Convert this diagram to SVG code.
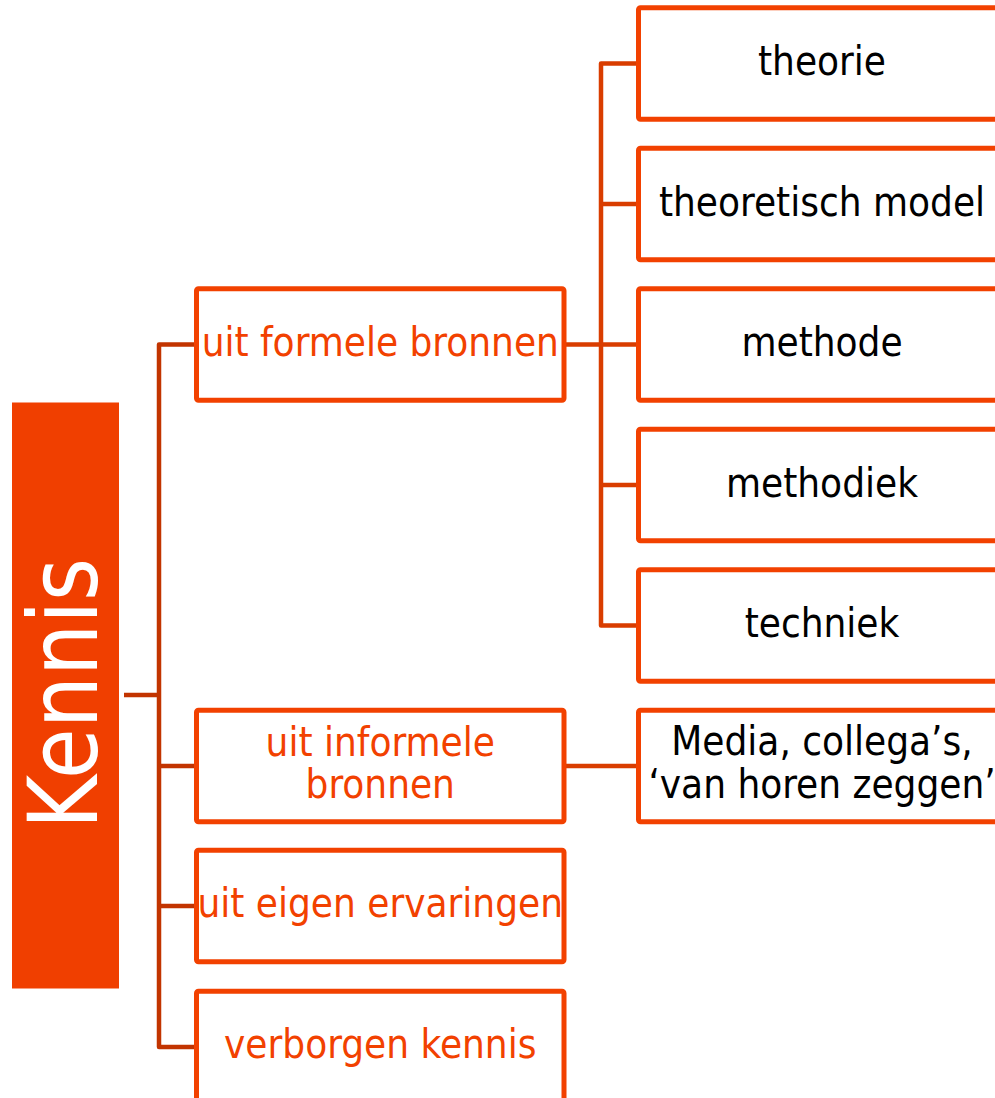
<svg xmlns="http://www.w3.org/2000/svg" width="995" height="1098" viewBox="0 0 995 1098">
<style>
.box{fill:#ffffff;stroke:#F24100;stroke-width:5;}
.t1{font-family:"DejaVu Sans Condensed","DejaVu Sans",Verdana,sans-serif;font-stretch:condensed;font-size:40px;fill:#F24100;text-anchor:middle;}
.t2{font-family:"DejaVu Sans Condensed","DejaVu Sans",Verdana,sans-serif;font-stretch:condensed;font-size:40px;fill:#000000;text-anchor:middle;}
.c1{fill:none;stroke:#C23400;stroke-width:4.5;stroke-linejoin:round;}
.c2{fill:none;stroke:#D93D00;stroke-width:4.5;stroke-linejoin:round;}
</style>
<rect width="995" height="1098" fill="#ffffff"/>
<g id="connectors">
<path class="c1" d="M124,695 H159"/>
<path class="c1" d="M196.5,344.5 H159 V1047 H196.5"/>
<path class="c1" d="M159,766 H196.5"/>
<path class="c1" d="M159,906 H196.5"/>
<path class="c2" d="M564,344.5 H638.5"/>
<path class="c2" d="M638.5,63.5 H601 V625.5 H638.5"/>
<path class="c2" d="M601,204 H638.5"/>
<path class="c2" d="M601,485 H638.5"/>
<path class="c2" d="M564,766 H638.5"/>
</g>
<g id="kennis">
<rect x="12" y="402.5" width="107" height="586" fill="#F03F00"/>
<text transform="translate(97,693.5) rotate(-90)" x="0" y="0" font-family="'DejaVu Sans',Verdana,sans-serif" font-size="97" fill="#ffffff" text-anchor="middle" textLength="271" lengthAdjust="spacingAndGlyphs">Kennis</text>
</g>
<g id="formele">
<rect class="box" x="196.5" y="288.75" width="367.5" height="111.5" rx="2"/>
<text class="t1" x="380.25" y="356">uit formele bronnen</text>
</g>
<g id="informele">
<rect class="box" x="196.5" y="710.25" width="367.5" height="111.5" rx="2"/>
<text class="t1" x="380.25" y="756">uit informele</text>
<text class="t1" x="380.25" y="798">bronnen</text>
</g>
<g id="eigen">
<rect class="box" x="196.5" y="850.25" width="367.5" height="111.5" rx="2"/>
<text class="t1" x="380.25" y="917">uit eigen ervaringen</text>
</g>
<g id="verborgen">
<rect class="box" x="196.5" y="991.25" width="367.5" height="111.5" rx="2"/>
<text class="t1" x="380.25" y="1058">verborgen kennis</text>
</g>
<g id="theorie">
<rect class="box" x="638.5" y="7.75" width="367.5" height="111.5" rx="2"/>
<text class="t2" x="822" y="75">theorie</text>
</g>
<g id="model">
<rect class="box" x="638.5" y="148.25" width="367.5" height="111.5" rx="2"/>
<text class="t2" x="822" y="215.5">theoretisch model</text>
</g>
<g id="methode">
<rect class="box" x="638.5" y="288.75" width="367.5" height="111.5" rx="2"/>
<text class="t2" x="822" y="356">methode</text>
</g>
<g id="methodiek">
<rect class="box" x="638.5" y="429.25" width="367.5" height="111.5" rx="2"/>
<text class="t2" x="822" y="496.5">methodiek</text>
</g>
<g id="techniek">
<rect class="box" x="638.5" y="569.75" width="367.5" height="111.5" rx="2"/>
<text class="t2" x="822" y="637">techniek</text>
</g>
<g id="media">
<rect class="box" x="638.5" y="710.25" width="367.5" height="111.5" rx="2"/>
<text class="t2" x="822" y="755">Media, collega’s,</text>
<text class="t2" x="822" y="797.5">‘van horen zeggen’</text>
</g>
</svg>
